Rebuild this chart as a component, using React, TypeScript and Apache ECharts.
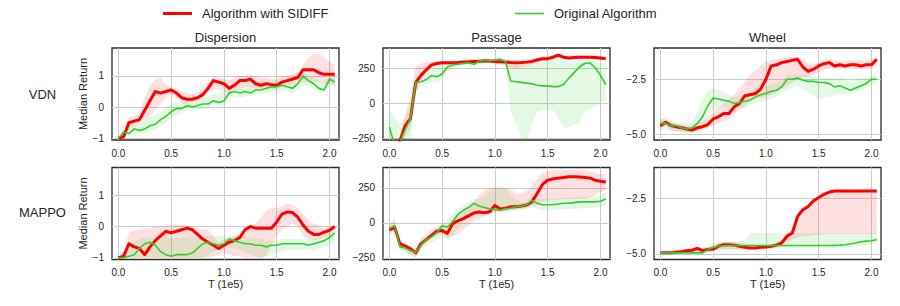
import React, { useEffect, useRef } from "react";
import * as echarts from "echarts";

// ---------- data ----------
const T = [0, 0.05, 0.1, 0.15, 0.2, 0.25, 0.3, 0.35, 0.4, 0.45, 0.5, 0.55, 0.6, 0.65, 0.7, 0.75, 0.8, 0.85, 0.9, 0.95, 1.0, 1.05, 1.1, 1.15, 1.2, 1.25, 1.3, 1.35, 1.4, 1.45, 1.5, 1.55, 1.6, 1.65, 1.7, 1.75, 1.8, 1.85, 1.9, 1.95, 2.0, 2.05];

const tTicks = [0, 0.5, 1, 1.5, 2];
const dispTicks = [-1, 0, 1];
const passTicks = [-250, 0, 250];
const wheelTicks = [-5, -2.5];

const rowNames = ["VDN", "MAPPO"];
const colNames = ["Dispersion", "Passage", "Wheel"];
const seriesNames = ["Algorithm with SIDIFF", "Original Algorithm"];

// VDN - Dispersion
const dispVdnRed = [-1, -0.95, -0.5, -0.45, -0.4, -0.1, 0.2, 0.5, 0.45, 0.5, 0.55, 0.45, 0.3, 0.25, 0.25, 0.3, 0.4, 0.6, 0.85, 0.8, 0.75, 0.6, 0.7, 0.85, 0.85, 0.9, 0.75, 0.7, 0.75, 0.72, 0.7, 0.8, 0.85, 0.9, 0.95, 1.2, 1.2, 1.2, 1.1, 1.05, 1.05, 1.05];
const dispVdnRedLo = [-1, -1, -0.7, -0.6, -0.5, -0.4, -0.3, -0.1, 0.1, 0.3, 0.4, 0.3, 0.1, 0.1, 0.15, 0.2, 0.3, 0.45, 0.6, 0.55, 0.5, 0.45, 0.55, 0.6, 0.65, 0.65, 0.6, 0.6, 0.65, 0.6, 0.6, 0.65, 0.7, 0.75, 0.8, 0.8, 0.8, 0.8, 0.8, 0.75, 0.75, 0.75];
const dispVdnRedHi = [-1, -0.8, -0.3, -0.3, -0.2, 0.3, 0.7, 0.9, 0.95, 0.7, 0.65, 0.6, 0.5, 0.45, 0.4, 0.45, 0.6, 0.8, 1.0, 0.95, 0.9, 0.85, 0.95, 1.0, 1.0, 1.05, 1.0, 0.95, 0.95, 0.9, 0.9, 1.0, 1.0, 1.05, 1.1, 1.35, 1.6, 1.7, 1.7, 1.6, 1.45, 1.35];
const dispVdnGreen = [-1, -0.8, -0.85, -0.7, -0.75, -0.7, -0.6, -0.55, -0.4, -0.3, -0.15, -0.05, -0.05, 0.05, 0.0, 0.05, 0.1, 0.1, 0.2, 0.15, 0.2, 0.45, 0.5, 0.45, 0.5, 0.45, 0.55, 0.55, 0.6, 0.65, 0.65, 0.7, 0.65, 0.6, 0.75, 1.0, 0.85, 0.75, 0.6, 0.55, 0.9, 0.8];
const dispVdnGreenLo = [-1, -0.95, -0.95, -0.85, -0.85, -0.85, -0.75, -0.7, -0.6, -0.5, -0.35, -0.25, -0.2, -0.1, -0.15, -0.1, -0.05, -0.05, 0.05, 0.0, 0.05, 0.3, 0.35, 0.3, 0.35, 0.35, 0.4, 0.4, 0.45, 0.5, 0.5, 0.5, 0.5, 0.45, 0.55, 0.7, 0.65, 0.6, 0.5, 0.45, 0.7, 0.65];
const dispVdnGreenHi = [-1, -0.7, -0.65, -0.55, -0.55, -0.4, -0.3, -0.25, -0.15, 0.0, 0.1, 0.15, 0.15, 0.2, 0.2, 0.25, 0.3, 0.35, 0.4, 0.45, 0.5, 0.6, 0.65, 0.65, 0.7, 0.7, 0.8, 0.85, 0.85, 0.85, 0.85, 0.9, 0.85, 0.8, 0.9, 1.1, 1.0, 0.95, 0.85, 0.8, 1.0, 0.95];

// VDN - Passage
const passVdnRed = [-420, -380, -270, -160, -110, 150, 200, 240, 275, 285, 290, 290, 290, 292, 295, 297, 300, 300, 305, 303, 300, 298, 295, 292, 290, 292, 295, 300, 310, 320, 320, 330, 345, 330, 325, 328, 330, 330, 330, 328, 325, 320];
const passVdnRedLo = [-460, -420, -330, -240, -180, 80, 170, 220, 255, 270, 275, 275, 275, 278, 280, 282, 285, 285, 290, 288, 285, 280, 265, 255, 250, 255, 265, 280, 290, 300, 305, 310, 320, 315, 310, 312, 315, 315, 315, 312, 310, 305];
const passVdnRedHi = [-380, -340, -220, -80, 50, 260, 285, 295, 300, 305, 305, 305, 305, 308, 310, 312, 315, 315, 320, 318, 315, 315, 315, 312, 310, 312, 315, 320, 330, 335, 340, 345, 360, 345, 340, 342, 345, 345, 345, 342, 340, 335];
const passVdnGreen = [-170, -300, -280, -190, -110, 150, 155, 170, 200, 190, 210, 260, 275, 280, 285, 290, 280, 300, 310, 305, 310, 315, 300, 160, 155, 150, 145, 140, 130, 125, 125, 120, 120, 135, 180, 220, 260, 285, 290, 255, 200, 135];
const passVdnGreenLo = [-350, -420, -420, -350, -250, 80, 120, 140, 150, 150, 170, 230, 250, 260, 265, 270, 260, 280, 290, 290, 295, 300, 280, -50, -150, -250, -280, -150, -60, -50, -50, -50, -100, -170, -170, -150, -140, -60, -40, -20, 0, 20];
const passVdnGreenHi = [-50, -100, -150, -100, 0, 190, 200, 220, 260, 270, 280, 300, 300, 305, 310, 320, 320, 325, 325, 320, 325, 325, 320, 310, 300, 300, 300, 300, 290, 290, 300, 310, 310, 310, 300, 300, 310, 310, 310, 300, 290, 280];

// VDN - Wheel
const wheelVdnRed = [-4.6, -4.45, -4.6, -4.65, -4.7, -4.75, -4.8, -4.7, -4.65, -4.55, -4.3, -4.2, -4.05, -4.05, -3.75, -3.6, -3.25, -3.2, -3.15, -2.95, -2.5, -1.9, -1.85, -1.75, -1.7, -1.65, -1.6, -1.95, -2.15, -2.05, -1.9, -1.8, -1.75, -1.9, -1.85, -1.9, -1.85, -1.85, -1.9, -1.85, -1.85, -1.6];
const wheelVdnRedLo = [-4.7, -4.6, -4.8, -4.85, -4.85, -4.9, -4.9, -4.85, -4.8, -4.7, -4.6, -4.5, -4.4, -4.3, -4.1, -3.9, -3.7, -3.5, -3.4, -3.35, -3.3, -3.2, -3.1, -2.95, -2.8, -2.65, -2.5, -2.4, -2.4, -2.3, -2.2, -2.1, -2.0, -2.05, -2.05, -2.05, -2.05, -2.05, -2.05, -2.05, -2.0, -1.85];
const wheelVdnRedHi = [-4.3, -4.3, -4.4, -4.5, -4.55, -4.6, -4.6, -4.5, -4.4, -4.2, -4.0, -3.8, -3.6, -3.4, -3.2, -2.9, -2.6, -2.3, -2.1, -1.9, -1.7, -1.65, -1.6, -1.55, -1.5, -1.5, -1.5, -1.6, -1.8, -1.8, -1.75, -1.65, -1.6, -1.65, -1.65, -1.65, -1.65, -1.65, -1.65, -1.65, -1.6, -1.5];
const wheelVdnGreen = [-4.5, -4.5, -4.6, -4.6, -4.7, -4.75, -4.7, -4.5, -4.2, -3.7, -3.35, -3.4, -3.45, -3.5, -3.6, -3.55, -3.5, -3.45, -3.3, -3.2, -3.15, -3.05, -3.0, -2.85, -2.5, -2.5, -2.45, -2.55, -2.6, -2.6, -2.65, -2.65, -2.7, -2.85, -2.8, -2.9, -3.0, -2.9, -2.8, -2.7, -2.5, -2.5];
const wheelVdnGreenLo = [-4.8, -4.8, -4.85, -4.85, -4.9, -4.9, -4.9, -4.8, -4.6, -4.2, -3.9, -3.8, -3.75, -3.75, -3.8, -3.8, -3.8, -3.7, -3.6, -3.55, -3.5, -3.4, -3.3, -3.15, -3.0, -2.9, -2.8, -2.95, -3.1, -3.25, -3.4, -3.35, -3.3, -3.25, -3.2, -3.2, -3.2, -3.1, -3.0, -2.9, -2.8, -2.75];
const wheelVdnGreenHi = [-4.3, -4.35, -4.4, -4.45, -4.5, -4.5, -4.45, -4.0, -3.4, -3.0, -2.9, -2.95, -3.1, -3.2, -3.3, -3.25, -3.2, -3.1, -2.9, -2.85, -2.8, -2.75, -2.7, -2.55, -2.3, -2.3, -2.3, -2.3, -2.35, -2.4, -2.4, -2.45, -2.45, -2.45, -2.4, -2.5, -2.55, -2.5, -2.45, -2.4, -2.35, -2.35];

// MAPPO - Dispersion
const dispMapRed = [-1, -0.95, -0.55, -0.65, -0.7, -0.9, -0.65, -0.45, -0.3, -0.15, -0.2, -0.15, -0.1, -0.05, -0.1, -0.25, -0.4, -0.5, -0.6, -0.7, -0.6, -0.5, -0.45, -0.35, -0.1, 0.0, -0.05, -0.05, -0.05, -0.05, 0.15, 0.4, 0.47, 0.45, 0.3, 0.05, -0.15, -0.25, -0.25, -0.18, -0.12, 0.0];
const dispMapRedLo = [-1, -1, -1, -1, -1, -1, -1, -1, -1, -1, -1, -1, -1, -1, -1, -1, -1, -1, -0.95, -0.9, -0.85, -0.9, -0.95, -0.95, -1, -1, -1, -1, -0.95, -0.6, -0.3, -0.1, 0.0, 0.1, 0.0, -0.3, -0.4, -0.45, -0.4, -0.35, -0.3, -0.1];
const dispMapRedHi = [-1, -0.8, -0.2, -0.1, -0.1, -0.05, -0.05, 0.0, 0.0, 0.0, 0.05, 0.05, 0.05, 0.05, 0.0, -0.05, -0.1, -0.1, -0.3, -0.5, -0.4, -0.35, -0.3, -0.2, -0.05, 0.05, 0.1, 0.3, 0.5, 0.6, 0.6, 0.65, 0.75, 0.7, 0.6, 0.4, 0.2, 0.1, 0.0, -0.05, 0.0, 0.05];
const dispMapGreen = [-1, -1, -0.95, -0.9, -0.7, -0.55, -0.5, -0.6, -0.8, -0.9, -0.95, -0.9, -0.9, -0.9, -0.85, -0.7, -0.55, -0.5, -0.55, -0.6, -0.55, -0.4, -0.45, -0.5, -0.55, -0.55, -0.6, -0.6, -0.65, -0.6, -0.6, -0.55, -0.55, -0.55, -0.55, -0.55, -0.6, -0.55, -0.5, -0.45, -0.35, -0.2];
const dispMapGreenLo = [-1, -1, -1, -1, -1, -1, -1, -1, -1, -1, -1, -1, -1, -1, -1, -1, -1, -0.9, -0.8, -0.75, -0.7, -0.6, -0.7, -0.75, -0.8, -0.9, -0.95, -1.0, -0.95, -0.9, -0.85, -0.8, -0.75, -0.75, -0.75, -0.75, -0.75, -0.75, -0.7, -0.65, -0.6, -0.55];
const dispMapGreenHi = [-1, -0.9, -0.7, -0.5, -0.4, -0.35, -0.35, -0.35, -0.35, -0.35, -0.35, -0.35, -0.35, -0.35, -0.35, -0.35, -0.35, -0.3, -0.3, -0.3, -0.3, -0.25, -0.3, -0.3, -0.35, -0.35, -0.4, -0.4, -0.45, -0.45, -0.45, -0.4, -0.4, -0.4, -0.4, -0.4, -0.4, -0.4, -0.35, -0.3, -0.2, -0.1];

// MAPPO - Passage
const passMapRed = [-50, -30, -150, -165, -185, -215, -150, -120, -90, -60, -55, -75, -5, 15, 30, 50, 70, 78, 72, 80, 125, 100, 105, 115, 115, 120, 128, 150, 210, 275, 305, 315, 320, 325, 330, 330, 328, 325, 320, 305, 298, 292];
const passMapRedLo = [-80, -60, -190, -200, -230, -250, -180, -140, -110, -90, -80, -110, -100, -80, -50, -20, 10, 30, 50, 60, 80, 80, 80, 90, 95, 100, 110, 120, 130, 150, 160, 160, 160, 170, 170, 170, 170, 170, 180, 200, 220, 230];
const passMapRedHi = [-20, 20, -130, -150, -170, -190, -110, -80, -50, -30, -20, -20, 20, 50, 80, 110, 150, 200, 230, 250, 250, 250, 250, 240, 210, 210, 230, 260, 320, 360, 370, 380, 380, 380, 380, 380, 380, 375, 370, 360, 350, 350];
const passMapGreen = [-40, -20, -170, -180, -200, -210, -160, -120, -100, -70, -20, -30, 10, 60, 90, 110, 140, 120, 110, 100, 95, 90, 100, 105, 115, 120, 130, 160, 140, 130, 130, 130, 135, 140, 140, 145, 150, 150, 150, 150, 155, 170];
const passMapGreenLo = [-70, -60, -200, -210, -230, -240, -200, -160, -140, -120, -110, -110, -90, -40, 0, 40, 80, 80, 70, 70, 70, 70, 80, 80, 90, 95, 100, 120, 100, 90, 90, 90, 95, 100, 100, 100, 105, 105, 105, 110, 110, 130];
const passMapGreenHi = [-10, 40, -130, -150, -170, -180, -120, -90, -70, -40, 0, 20, 60, 100, 130, 150, 170, 170, 190, 230, 260, 260, 250, 200, 170, 150, 150, 190, 180, 170, 170, 170, 175, 180, 180, 185, 190, 190, 190, 195, 200, 220];

// MAPPO - Wheel
const wheelMapRed = [-4.95, -4.95, -4.95, -4.92, -4.9, -4.85, -4.83, -4.75, -4.85, -4.8, -4.78, -4.65, -4.58, -4.58, -4.6, -4.65, -4.7, -4.73, -4.73, -4.7, -4.68, -4.65, -4.6, -4.5, -4.2, -4.05, -3.3, -3.0, -2.85, -2.6, -2.45, -2.3, -2.2, -2.15, -2.15, -2.15, -2.15, -2.15, -2.15, -2.15, -2.15, -2.15];
const wheelMapRedLo = [-5.0, -5.0, -4.98, -4.97, -4.95, -4.95, -4.92, -4.9, -4.92, -4.9, -4.85, -4.8, -4.8, -4.8, -4.8, -4.8, -4.8, -4.8, -4.8, -4.8, -4.75, -4.75, -4.7, -4.6, -4.5, -4.35, -4.25, -4.2, -4.2, -4.15, -4.15, -4.1, -4.1, -4.1, -4.1, -4.1, -4.1, -4.1, -4.1, -4.1, -4.1, -4.1];
const wheelMapRedHi = [-4.9, -4.88, -4.85, -4.82, -4.8, -4.75, -4.7, -4.65, -4.7, -4.7, -4.6, -4.5, -4.45, -4.45, -4.45, -4.5, -4.55, -4.6, -4.6, -4.6, -4.6, -4.55, -4.45, -4.35, -4.0, -3.9, -3.2, -2.95, -2.8, -2.55, -2.4, -2.25, -2.15, -2.1, -2.1, -2.1, -2.1, -2.1, -2.1, -2.1, -2.1, -2.1];
const wheelMapGreen = [-4.95, -4.95, -4.95, -4.95, -4.95, -4.95, -4.95, -4.95, -4.95, -4.8, -4.7, -4.65, -4.63, -4.62, -4.62, -4.62, -4.62, -4.62, -4.62, -4.62, -4.62, -4.62, -4.62, -4.62, -4.62, -4.62, -4.62, -4.62, -4.62, -4.62, -4.62, -4.62, -4.62, -4.61, -4.6, -4.58, -4.55, -4.5, -4.45, -4.42, -4.4, -4.35];
const wheelMapGreenLo = [-5.0, -5.0, -5.0, -5.0, -5.0, -5.0, -5.0, -5.0, -5.0, -4.95, -4.85, -4.8, -4.8, -4.8, -4.8, -4.8, -4.78, -4.75, -4.75, -4.75, -4.75, -4.75, -4.75, -4.75, -4.75, -4.75, -4.72, -4.72, -4.72, -4.72, -4.72, -4.72, -4.72, -4.72, -4.7, -4.7, -4.68, -4.65, -4.62, -4.6, -4.55, -4.5];
const wheelMapGreenHi = [-4.9, -4.9, -4.88, -4.85, -4.82, -4.8, -4.78, -4.75, -4.75, -4.6, -4.5, -4.45, -4.45, -4.45, -4.45, -4.42, -4.4, -4.05, -4.05, -4.05, -4.05, -4.05, -4.05, -4.05, -4.05, -4.05, -4.05, -4.05, -4.05, -4.05, -4.05, -4.05, -4.05, -4.05, -4.05, -4.05, -4.05, -4.05, -4.05, -4.05, -4.05, -4.05];

// ---------- styling / layout ----------
const FONT = "'Liberation Sans', Arial, Helvetica, sans-serif";
const TXT = "#262626";
const RED = "#ff0000";
const GREEN = "#33cc33";
const RED_BAND = "rgba(255,0,0,0.12)";
const GREEN_BAND = "rgba(50,205,50,0.13)";

const gridLeft = [112, 383, 654];
const gridTop = [48, 167.5];
const gridW = 227;
const gridH = 92;

const yCfg = [
  { min: -1.055, max: 1.895, ticks: dispTicks, dec: 0 },
  { min: -262, max: 396, ticks: passTicks, dec: 0 },
  { min: -5.25, max: -1.09, ticks: wheelTicks, dec: 1 },
];

const panels = [
  { r: 0, c: 0, a: [dispVdnRed, dispVdnRedLo, dispVdnRedHi], b: [dispVdnGreen, dispVdnGreenLo, dispVdnGreenHi] },
  { r: 0, c: 1, a: [passVdnRed, passVdnRedLo, passVdnRedHi], b: [passVdnGreen, passVdnGreenLo, passVdnGreenHi] },
  { r: 0, c: 2, a: [wheelVdnRed, wheelVdnRedLo, wheelVdnRedHi], b: [wheelVdnGreen, wheelVdnGreenLo, wheelVdnGreenHi] },
  { r: 1, c: 0, a: [dispMapRed, dispMapRedLo, dispMapRedHi], b: [dispMapGreen, dispMapGreenLo, dispMapGreenHi] },
  { r: 1, c: 1, a: [passMapRed, passMapRedLo, passMapRedHi], b: [passMapGreen, passMapGreenLo, passMapGreenHi] },
  { r: 1, c: 2, a: [wheelMapRed, wheelMapRedLo, wheelMapRedHi], b: [wheelMapGreen, wheelMapGreenLo, wheelMapGreenHi] },
];

const fmt = (v: number, dec: number) => v.toFixed(dec).replace("-", "\u2212");

function bandSeries(idx: number, lo: number[], hi: number[], color: string) {
  const data = T.map((t, i) => [t, lo[i], hi[i]]);
  return {
    type: "custom",
    xAxisIndex: idx,
    yAxisIndex: idx,
    clip: true,
    silent: true,
    z: 1,
    data,
    encode: { x: 0, y: [1, 2] },
    renderItem: (params: any, api: any) => {
      if (params.dataIndex !== 0) return null;
      const upper = data.map((d) => api.coord([d[0], d[2]]));
      const lower = data.map((d) => api.coord([d[0], d[1]])).reverse();
      return {
        type: "polygon",
        shape: { points: upper.concat(lower) },
        style: { fill: color, stroke: "none" },
      };
    },
  };
}

function lineSeries(idx: number, name: string, vals: number[], color: string, width: number, z: number) {
  return {
    type: "line",
    name,
    xAxisIndex: idx,
    yAxisIndex: idx,
    data: T.map((t, i) => [t, vals[i]]),
    showSymbol: false,
    symbol: "none",
    clip: true,
    z,
    lineStyle: { color, width, join: "round" },
    itemStyle: { color },
  };
}

function buildOption() {
  const grid: any[] = [];
  const xAxis: any[] = [];
  const yAxis: any[] = [];
  const series: any[] = [];
  panels.forEach((p, idx) => {
    grid.push({
      left: gridLeft[p.c],
      top: gridTop[p.r],
      width: gridW,
      height: gridH,
      show: true,
      borderColor: "#2b2b2b",
      borderWidth: 1.3,
      backgroundColor: "transparent",
    });
    xAxis.push({
      type: "value",
      gridIndex: idx,
      min: -0.06,
      max: 2.09,
      axisLine: { show: false },
      axisTick: { show: false, customValues: tTicks },
      splitLine: { show: true, lineStyle: { color: "#cccccc", width: 1 } },
      axisLabel: {
        customValues: tTicks,
        formatter: (v: number) => fmt(v, 1),
        color: TXT,
        fontSize: 10,
        fontFamily: FONT,
        margin: 8,
      },
      name: p.r === 1 ? "T (1e5)" : "",
      nameLocation: "middle",
      nameGap: 16,
      nameTextStyle: { color: TXT, fontSize: 11, fontFamily: FONT },
    });
    const yc = yCfg[p.c];
    yAxis.push({
      type: "value",
      gridIndex: idx,
      min: yc.min,
      max: yc.max,
      axisLine: { show: false },
      axisTick: { show: false, customValues: yc.ticks },
      splitLine: { show: true, lineStyle: { color: "#cccccc", width: 1 } },
      axisLabel: {
        customValues: yc.ticks,
        formatter: (v: number) => fmt(v, yc.dec),
        color: TXT,
        fontSize: 10,
        fontFamily: FONT,
        margin: 8,
      },
      name: p.c === 0 ? "Median Return" : "",
      nameLocation: "middle",
      nameGap: 20,
      nameTextStyle: { color: TXT, fontSize: 11, fontFamily: FONT },
    });
    series.push(bandSeries(idx, p.a[1], p.a[2], RED_BAND));
    series.push(bandSeries(idx, p.b[1], p.b[2], GREEN_BAND));
    series.push(lineSeries(idx, seriesNames[0], p.a[0], RED, 3, 3));
    series.push(lineSeries(idx, seriesNames[1], p.b[0], GREEN, 1.6, 4));
  });

  const graphic: any[] = [];
  colNames.forEach((n, c) => {
    graphic.push({
      type: "text",
      x: gridLeft[c] + gridW / 2,
      y: 37.5,
      style: { text: n, fill: TXT, font: `13px ${FONT}`, textAlign: "center", textVerticalAlign: "middle" },
    });
  });
  const rowY = [94, 212.5];
  rowNames.forEach((n, r) => {
    graphic.push({
      type: "text",
      x: 42.5,
      y: rowY[r],
      style: { text: n, fill: TXT, font: `13px ${FONT}`, textAlign: "center", textVerticalAlign: "middle" },
    });
  });

  const legendBase = {
    orient: "horizontal",
    top: 7,
    padding: 0,
    itemWidth: 29,
    icon: "rect",
    selectedMode: false,
    textStyle: { color: TXT, fontSize: 13, fontFamily: FONT, padding: [0, 0, 0, 5] },
  };

  return {
    animation: false,
    backgroundColor: "#ffffff",
    textStyle: { fontFamily: FONT },
    legend: [
      { ...legendBase, left: 163, itemHeight: 3, data: [seriesNames[0]] },
      { ...legendBase, left: 515, itemHeight: 1.6, data: [seriesNames[1]] },
    ],
    grid,
    xAxis,
    yAxis,
    series,
    graphic,
  };
}

export default function App() {
  const ref = useRef<HTMLDivElement>(null);
  useEffect(() => {
    document.body.style.margin = "0";
    const chart = echarts.init(ref.current as HTMLDivElement, null, { renderer: "svg" });
    chart.setOption(buildOption() as any);
    return () => chart.dispose();
  }, []);
  return <div ref={ref} style={{ width: 900, height: 306 }} />;
}
